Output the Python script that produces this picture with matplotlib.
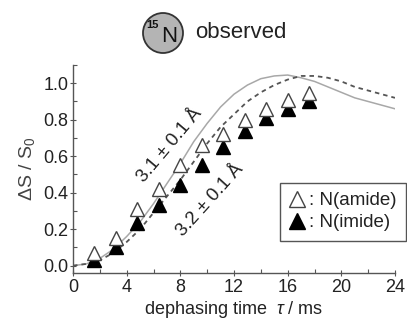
import matplotlib
matplotlib.use("Agg")
import matplotlib.pyplot as plt
from matplotlib.patches import Ellipse
from matplotlib.ticker import MultipleLocator
from matplotlib.lines import Line2D

plt.rcParams['font.family'] = ['Liberation Sans', 'DejaVu Sans']
plt.rcParams['mathtext.fontset'] = 'custom'
plt.rcParams['mathtext.rm'] = 'Liberation Sans'
plt.rcParams['mathtext.it'] = 'Liberation Sans:italic'

# ---- data ----
tau_points = [1.6, 3.2, 4.8, 6.4, 8.0, 9.6, 11.2, 12.8, 14.4, 16.0, 17.6]
amide = [0.07, 0.15, 0.31, 0.42, 0.55, 0.66, 0.72, 0.80, 0.86, 0.91, 0.945]
imide = [0.03, 0.10, 0.235, 0.33, 0.44, 0.55, 0.65, 0.74, 0.81, 0.86, 0.90]

curve_tau = list(range(0, 25))
curve_31 = [0.0, 0.01, 0.04, 0.09, 0.16, 0.24, 0.34, 0.45, 0.56, 0.68, 0.78,
            0.87, 0.94, 0.99, 1.025, 1.04, 1.045, 1.03, 1.01, 0.98, 0.95,
            0.92, 0.90, 0.88, 0.86]
curve_32 = [0.0, 0.01, 0.03, 0.07, 0.13, 0.20, 0.29, 0.38, 0.47, 0.57, 0.67,
            0.76, 0.83, 0.90, 0.95, 0.99, 1.02, 1.04, 1.04, 1.03, 1.01,
            0.98, 0.96, 0.94, 0.92]

x_ticks = [0, 4, 8, 12, 16, 20, 24]
y_ticks = [0.0, 0.2, 0.4, 0.6, 0.8, 1.0]
label_31 = "3.1 ± 0.1 Å"
label_32 = "3.2 ± 0.1 Å"
legend_labels = [": N(amide)", ": N(imide)"]

W, H = 407, 324
fig = plt.figure(figsize=(W / 100, H / 100), dpi=100)
ax = fig.add_axes([73 / W, 1 - 273 / H, (395 - 73) / W, (273 - 65) / H])

txt = '#222222'
spine_c = '#555555'

ax.plot(curve_tau, curve_31, color='#a8a8a8', lw=1.1, zorder=1)
ax.plot(curve_tau, curve_32, color='#555555', lw=1.3, dashes=(2.5, 2.2), zorder=1)

ax.plot(tau_points, imide, linestyle='none', marker='^', ms=10,
        mfc='black', mec='black', mew=1.0, zorder=3)
ax.plot(tau_points, amide, linestyle='none', marker='^', ms=10,
        mfc='white', mec='#444444', mew=1.0, zorder=4)

ax.set_xlim(0, 24)
ax.set_ylim(-0.04, 1.1)
ax.set_xticks(x_ticks)
ax.set_yticks(y_ticks)
ax.set_yticklabels([f"{v:.1f}" for v in y_ticks])
ax.xaxis.set_minor_locator(MultipleLocator(2))
ax.yaxis.set_minor_locator(MultipleLocator(0.1))

for s in ['top', 'right']:
    ax.spines[s].set_visible(False)
for s in ['left', 'bottom']:
    ax.spines[s].set_color(spine_c)
    ax.spines[s].set_linewidth(1.0)

ax.tick_params(which='major', direction='inout', length=5, width=0.8,
               color=spine_c, labelsize=13, labelcolor=txt)
ax.tick_params(axis='y', which='major', pad=1)
ax.tick_params(axis='x', which='major', pad=2)
ax.tick_params(which='minor', direction='in', length=3, width=0.8, color=spine_c)

ax.set_xlabel("dephasing time  $\\it{\\tau}$ / ms", fontsize=13, color=txt, labelpad=2)
ax.set_ylabel("ΔS / S$_0$", fontsize=14, color='#444444', labelpad=4)

ax.text(7.2, 0.66, label_31, rotation=50, fontsize=13.5, color=txt,
        ha='center', va='center', rotation_mode='anchor')
ax.text(10.2, 0.36, label_32, rotation=48, fontsize=13.5, color=txt,
        ha='center', va='center', rotation_mode='anchor')

handles = [Line2D([], [], linestyle='none', marker='^', ms=11, mfc='white', mec='#444444'),
           Line2D([], [], linestyle='none', marker='^', ms=11, mfc='black', mec='black')]
leg = fig.legend(handles, legend_labels, loc='upper left',
                 bbox_to_anchor=(280 / W, 1 - 183 / H), bbox_transform=fig.transFigure,
                 borderaxespad=0, fontsize=13.5, handlelength=0.8, handletextpad=0.25,
                 labelspacing=0.25, borderpad=0.5, fancybox=False, framealpha=1,
                 labelcolor=txt)
leg.get_frame().set_edgecolor('#555555')
leg.get_frame().set_linewidth(1.0)

# title: 15N circle + observed
fig.add_artist(Ellipse((163 / W, 1 - 33 / H), width=40 / W, height=40 / H,
                       transform=fig.transFigure, facecolor='#b4b4b4',
                       edgecolor='#333333', lw=1.3))
fig.text(152 / W, 1 - 25 / H, "15", fontsize=8, color='#111111',
         ha='center', va='center', fontweight='bold')
fig.text(169 / W, 1 - 36 / H, "N", fontsize=16, color='#111111',
         ha='center', va='center')
fig.text(195 / W, 1 - 33 / H, "observed", fontsize=16, color=txt,
         ha='left', va='center')

fig.savefig("out.png", dpi=100)
